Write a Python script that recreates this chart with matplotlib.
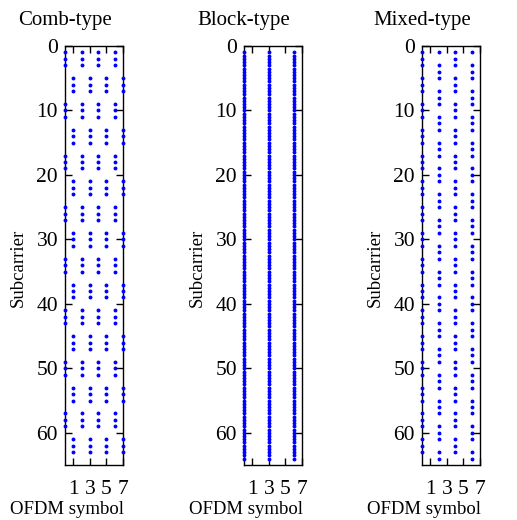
import numpy as np
import matplotlib
matplotlib.use('Agg')
from matplotlib import pyplot as plt

plt.rcParams['font.family'] = ['Liberation Serif', 'DejaVu Serif']
plt.rcParams['font.size'] = 13.5

# pilot pattern
titles = ['Comb-type', 'Block-type', 'Mixed-type']
n_sub = 64
xticks = [1, 3, 5, 7]
yticks = [0, 10, 20, 30, 40, 50, 60]

# comb: rows 1-3 (mod 8) on even symbols, rows 5-7 (mod 8) on odd symbols
comb_even_cols = [0, 2, 4, 6]
comb_odd_cols = [1, 3, 5, 7]
comb_even_rows = [r for r in range(1, n_sub + 1) if r % 8 in (1, 2, 3)]
comb_odd_rows = [r for r in range(1, n_sub + 1) if r % 8 in (5, 6, 7)]

# block: whole symbols 0, 3, 6, dots every half subcarrier
block_cols = [0, 3, 6]
block_rows = np.arange(1, n_sub + 0.5, 0.5)

# mixed: symbols 0,4 skip rows 0 mod 4, symbols 2,6 skip rows 2 mod 4
mixed_cols_a = [0, 4]
mixed_cols_b = [2, 6]
mixed_rows_a = [r for r in range(1, n_sub + 1) if r % 4 != 0]
mixed_rows_b = [r for r in range(1, n_sub + 1) if r % 4 != 2]


def pts(cols, rows):
    xs, ys = [], []
    for c in cols:
        for r in rows:
            xs.append(c)
            ys.append(r)
    return xs, ys


fig = plt.figure(figsize=(5.17, 5.20), dpi=100)
lefts = [65 / 517, 244 / 517, 422 / 517]
w = 58 / 517
bottom = 1 - 465 / 520
h = 419 / 520

sets = [
    [pts(comb_even_cols, comb_even_rows), pts(comb_odd_cols, comb_odd_rows)],
    [pts(block_cols, block_rows)],
    [pts(mixed_cols_a, mixed_rows_a), pts(mixed_cols_b, mixed_rows_b)],
]

for i in range(3):
    ax = fig.add_axes([lefts[i], bottom, w, h])
    for xs, ys in sets[i]:
        ax.plot(xs, ys, 'o', color='#0000ff', ms=2.8, mew=0, clip_on=False, zorder=3)
    ax.set_xlim(0, 7)
    ax.set_ylim(65, 0)
    ax.set_xticks(xticks)
    ax.set_yticks(yticks)
    ax.tick_params(direction='in', length=5, width=1, top=True, right=True,
                   labelsize=15.5)
    ax.xaxis.set_tick_params(pad=11)
    ax.yaxis.set_tick_params(pad=5)
    for s in ax.spines.values():
        s.set_linewidth(1)
    # titles and x labels sit centred on the left spine in the original
    ax.text(0, 1 + 26 / 419, titles[i], transform=ax.transAxes,
            ha='center', va='center', fontsize=15)
    ax.set_xlabel('OFDM symbol')
    ax.xaxis.set_label_coords(0.03, -45 / 419)
    ax.xaxis.label.set_va('center')
    ax.set_ylabel('Subcarrier')
    ax.yaxis.set_label_coords(-47 / 58, 0.47)
    ax.yaxis.label.set_va('center')

fig.savefig('out.png', dpi=100)
